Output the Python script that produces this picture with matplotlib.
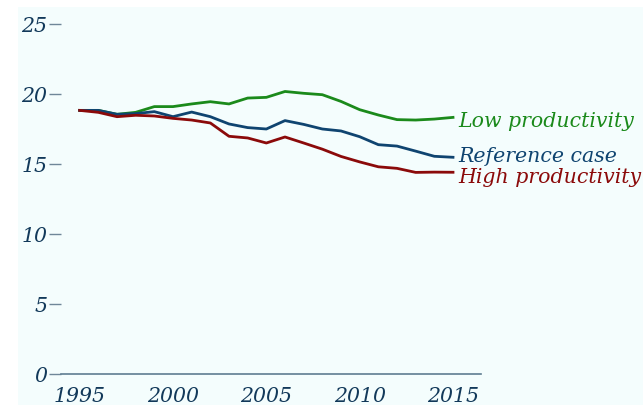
import matplotlib
matplotlib.use("Agg")
import matplotlib.pyplot as plt

years = list(range(1995, 2016))
reference = [18.83, 18.83, 18.55, 18.6, 18.74, 18.38, 18.71, 18.38, 17.86, 17.6, 17.5,
             18.1, 17.83, 17.5, 17.36, 16.95, 16.38, 16.28, 15.92, 15.55, 15.48]
low_prod = [18.83, 18.83, 18.55, 18.69, 19.1, 19.1, 19.29, 19.45, 19.29, 19.71, 19.76,
            20.18, 20.05, 19.95, 19.47, 18.88, 18.5, 18.17, 18.14, 18.21, 18.33]
high_prod = [18.83, 18.69, 18.38, 18.48, 18.43, 18.26, 18.14, 17.93, 16.98, 16.86, 16.5,
             16.93, 16.5, 16.06, 15.54, 15.15, 14.8, 14.69, 14.4, 14.42, 14.41]
series_names = ["Low productivity", "Reference case", "High productivity"]
y_ticks = [0, 5, 10, 15, 20, 25]
x_ticks = [1995, 2000, 2005, 2010, 2015]

colors = {"Low productivity": "#1b8a1b", "Reference case": "#0f4470", "High productivity": "#8b0a0a"}
label_y = {"Low productivity": 17.71, "Reference case": 15.21, "High productivity": 13.71}
text_color = "#12395a"
bg = "#f4fdfd"

W, H = 643, 406
fig = plt.figure(figsize=(W / 100, H / 100), dpi=100)
fig.patch.set_facecolor("white")

bg_ax = fig.add_axes([18 / W, 0, 1 - 18 / W, 1 - 8 / H], zorder=-10)
bg_ax.set_facecolor(bg)
bg_ax.set_xticks([])
bg_ax.set_yticks([])
for s in bg_ax.spines.values():
    s.set_visible(False)

ax = fig.add_axes([61 / W, (H - 375) / H, (481 - 61) / W, (375 - 11) / H], zorder=1)
ax.set_facecolor("none")
ax.set_xlim(1994, 2016.5)
ax.set_ylim(0, 26)

font = dict(family="DejaVu Serif", style="italic", size=14.8)

for name, vals in zip(series_names, [low_prod, reference, high_prod]):
    ax.plot(years, vals, color=colors[name], lw=2.0, solid_joinstyle="round")
    ax.text(2015.3, label_y[name], name, color=colors[name], va="baseline", ha="left",
            clip_on=False, **font)

for s in ["top", "right", "left"]:
    ax.spines[s].set_visible(False)
ax.spines["bottom"].set_color("#5f7d92")
ax.spines["bottom"].set_linewidth(1.2)

ax.set_yticks(y_ticks)
ax.set_yticklabels([str(v) for v in y_ticks], **font)
ax.set_xticks(x_ticks)
ax.set_xticklabels([str(v) for v in x_ticks], **font)
ax.tick_params(axis="y", length=9, width=1.0, color="#6f8799", pad=1, labelcolor=text_color)
ax.tick_params(axis="x", length=0, pad=9, labelcolor=text_color)

fig.savefig("out.png", dpi=100)
